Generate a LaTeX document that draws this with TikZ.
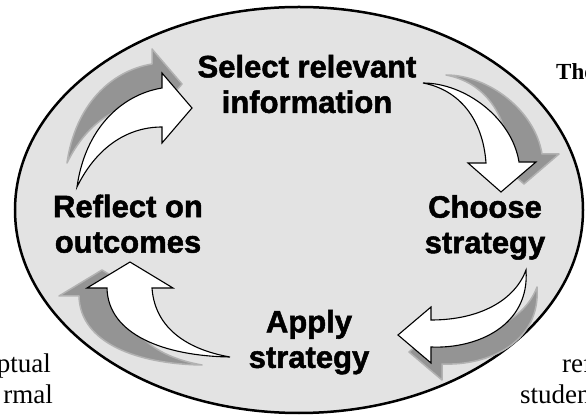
\documentclass[tikz,border=0pt]{standalone}
\usepackage{fontspec}
\setmainfont{Liberation Serif}
\setsansfont{Liberation Sans}[BoldFeatures={FakeBold=1.6}]

\begin{document}
\begin{tikzpicture}[x=1pt, y=-1pt,
    stage/.style={font=\sffamily\bfseries\fontsize{31}{35.5}\selectfont, align=center, inner sep=0pt, anchor=north},
    pagetext/.style={font=\fontsize{27}{31}\selectfont, inner sep=0pt},
    arrowshade/.style={fill=black!42, draw=black!30, line width=1.5pt, line join=round},
    blockarrow/.style={fill=white, draw=black, line width=1.1pt, line join=miter},
    arrowTL/.style={insert path={(77,187) .. controls (85,130) and (120,95) .. (162,88) -- (162,73) -- (192,108) -- (162,143) -- (162,127) .. controls (125,127) and (95,150) .. (77,187) -- cycle}},
    arrowTR/.style={insert path={(423,83) .. controls (465,83) and (512,118) .. (519,162) -- (536,162) -- (501,192) -- (468,163) -- (486,163) .. controls (483,120) and (460,90) .. (423,83) -- cycle}},
    arrowBR/.style={insert path={(526,270) .. controls (530,325) and (478,349) .. (431,347) -- (431,363) -- (398,335) -- (431,307) -- (431,320) .. controls (480,320) and (515,300) .. (526,270) -- cycle}},
    arrowBL/.style={insert path={(230,357) .. controls (165,356) and (108,335) .. (107,288) -- (87,288) -- (130,262) -- (173,288) -- (152,288) .. controls (155,330) and (190,350) .. (230,357) -- cycle}}]
    \useasboundingbox (0,0) rectangle (586,419);
    \clip (0,0) rectangle (586,419);

    % Cycle background
    \draw[line width=2.5pt, fill=black!11] (299,210) ellipse [x radius=284, y radius=203];

    % Arrow shadows
    \path[arrowshade, shift={(-10,-24)}, arrowTL];
    \path[arrowshade, shift={(23,-8)}, arrowTR];
    \path[arrowshade, shift={(11,17)}, arrowBR];
    \path[arrowshade, shift={(-28,8)}, arrowBL];

    % Arrows
    \path[blockarrow, arrowTL];
    \path[blockarrow, arrowTR];
    \path[blockarrow, arrowBR];
    \path[blockarrow, arrowBL];

    % Stages
    \node[stage] (select) at (307,54.7) {Select relevant\\information};
    \node[stage] (choose) at (485,195) {Choose\\strategy};
    \node[stage] (apply) at (309,309.7) {Apply\\strategy};
    \node[stage] (reflect) at (128,194.5) {Reflect on\\outcomes};

    % Surrounding page text
    \node[pagetext, font=\bfseries\fontsize{23}{27}\selectfont, anchor=base west] (the) at (556,80) {The};
    \node[pagetext, anchor=base east] (ptual) at (51,372) {ptual};
    \node[pagetext, anchor=base east] (rmal) at (53,403) {rmal};
    \node[pagetext, anchor=base west] (ref) at (562,372) {ref};
    \node[pagetext, anchor=base west] (studen) at (520,403) {studen};
\end{tikzpicture}
\end{document}
